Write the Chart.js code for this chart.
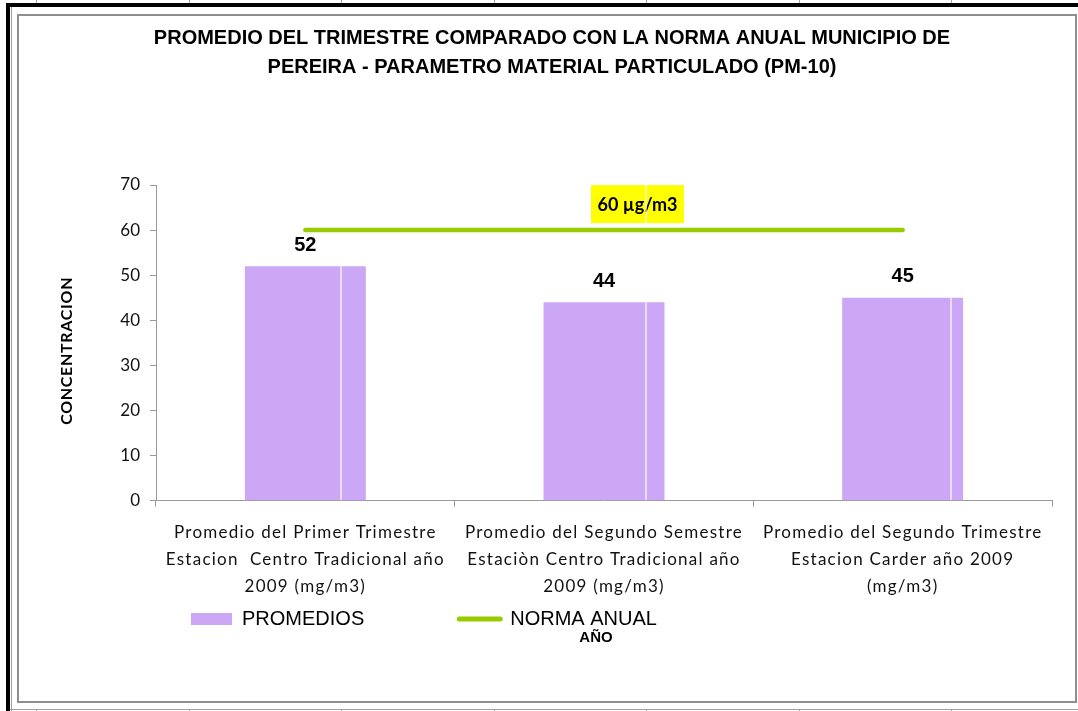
<!DOCTYPE html>
<html><head><meta charset="utf-8">
<script src="https://cdn.jsdelivr.net/npm/chart.js@4.4.1/dist/chart.umd.min.js"></script>
<style>
html,body{margin:0;padding:0;background:#fff;width:1078px;height:711px;overflow:hidden;position:relative}
.blk{position:absolute;background:#000}
.gry{position:absolute;background:#a0a0a0}
#frame{position:absolute;left:17px;top:14px;width:1060px;height:689px;box-sizing:border-box;border:2px solid #8f8f8f;background:#fff}
#c{position:absolute;left:19px;top:16px}
</style></head>
<body>
<div class="gry" style="left:10px;top:709px;width:1068px;height:1px"></div>
<div class="gry" style="left:11px;top:7px;width:1px;height:704px"></div>
<div class="blk" style="left:6px;top:3px;width:1072px;height:4px"></div>
<div class="blk" style="left:6px;top:3px;width:4px;height:708px"></div>
<div id="frame"></div>
<canvas id="c" width="1056" height="685"></canvas>
<script>
// ---- data ----
const categories = [
  ["Promedio del Primer Trimestre", "Estacion  Centro Tradicional año", "2009 (mg/m3)"],
  ["Promedio del Segundo Semestre", "Estaciòn Centro Tradicional año", "2009 (mg/m3)"],
  ["Promedio del Segundo Trimestre", "Estacion Carder año 2009", "(mg/m3)"]
];
const promedios = [52, 44, 45];
const normaAnual = [60, 60, 60];
const normaLabel = "60 µg/m3";
const seriesNames = ["PROMEDIOS", "NORMA ANUAL"];
const titleLines = [
  "PROMEDIO DEL TRIMESTRE COMPARADO CON LA NORMA ANUAL MUNICIPIO DE",
  "PEREIRA - PARAMETRO MATERIAL PARTICULADO (PM-10)"
];
const yTitle = "CONCENTRACION";
const xTitle = "AÑO";

// ---- styling ----
const PURPLE = '#cca7f5';
const GREEN = '#99cc00';
const AXIS = '#9a9a9a';
const CANVAS_X = 19;

// per-axis text tweaks (Calibri-like spacing, title offsets)
const LABEL_SPACING = { x: '1.25px', y: '0px' };
const TITLE_SPACING = { x: '0px', y: '0.7px' };
const TITLE_SHIFT = { x: [-8, 0], y: [0, 8] };
const origDrawLabels = Chart.Scale.prototype.drawLabels;
Chart.Scale.prototype.drawLabels = function (area) {
  const c = this.ctx; c.save();
  c.letterSpacing = LABEL_SPACING[this.id] || '0px';
  origDrawLabels.call(this, area);
  c.restore();
};
const origDrawTitle = Chart.Scale.prototype.drawTitle;
Chart.Scale.prototype.drawTitle = function () {
  const c = this.ctx; c.save();
  c.letterSpacing = TITLE_SPACING[this.id] || '0px';
  const s = TITLE_SHIFT[this.id] || [0, 0];
  c.translate(s[0], s[1]);
  origDrawTitle.call(this);
  c.restore();
};

// spreadsheet column gridlines (page coords) bleeding through filled shapes
const sheetCols = [];
for (let k = 0; k < 7; k++) sheetCols.push(36 + 152.5 * k);
sheetCols.forEach(x => {
  const t = document.createElement('div'); t.className = 'gry';
  t.style.cssText = 'left:' + Math.round(x) + 'px;top:0px;width:1px;height:3px';
  document.body.appendChild(t);
  const b = document.createElement('div'); b.className = 'gry';
  b.style.cssText = 'left:' + Math.round(x) + 'px;top:709px;width:1px;height:2px';
  document.body.appendChild(b);
});

function sheetLinesIn(ctx, left, top, w, h) {
  ctx.save();
  ctx.beginPath(); ctx.rect(left, top, w, h); ctx.clip();
  ctx.strokeStyle = '#ffffff'; ctx.lineWidth = 1.2;
  sheetCols.forEach(px => {
    const x = px - CANVAS_X;
    ctx.beginPath(); ctx.moveTo(x, top); ctx.lineTo(x, top + h); ctx.stroke();
  });
  ctx.restore();
}

const overlay = {
  id: 'overlay',
  afterLayout(chart) {
    const lg = chart.legend; const ca = chart.chartArea;
    const pad = lg.options.labels.padding;
    const rowTop = ca.bottom + 108.3;
    lg.left = ca.left + 35 - pad; lg.right = ca.right;
    lg.top = rowTop - pad; lg.bottom = rowTop + 30;
    lg.width = lg.right - lg.left; lg.height = lg.bottom - lg.top;
  },
  afterDatasetDraw(chart, args) {
    if (args.index !== 0) return;
    const ctx = chart.ctx;
    args.meta.data.forEach(bar => {
      const p = bar.getProps(['x', 'y', 'base', 'width'], true);
      sheetLinesIn(ctx, p.x - p.width / 2, p.y, p.width, p.base - p.y);
    });
    // label box for the norm line
    const xs = chart.scales.x, ys = chart.scales.y;
    const cx = xs.getPixelForValue(1) + 33.5;
    const cy = ys.getPixelForValue(normaAnual[1]) - 26;
    const bw = 93, bh = 38;
    ctx.save();
    ctx.fillStyle = '#ffff00';
    ctx.fillRect(cx - bw / 2, cy - bh / 2, bw, bh);
    ctx.fillStyle = '#000';
    ctx.font = 'bold 18px Lato';
    ctx.textAlign = 'center'; ctx.textBaseline = 'middle';
    ctx.fillText(normaLabel, cx, cy + 1);
    ctx.restore();
    sheetLinesIn(ctx, cx - bw / 2, cy - bh / 2, bw, bh);
  },
  afterDatasetsDraw(chart) {
    const ctx = chart.ctx;
    const meta = chart.getDatasetMeta(0);
    ctx.save();
    ctx.fillStyle = '#000';
    ctx.font = 'bold 20px "Liberation Sans"';
    ctx.textAlign = 'center'; ctx.textBaseline = 'middle';
    meta.data.forEach((bar, i) => {
      ctx.fillText(String(promedios[i]), bar.x, bar.y - 21);
    });
    ctx.restore();
  }
};

new Chart(document.getElementById('c'), {
  type: 'bar',
  data: {
    labels: categories,
    datasets: [
      { label: seriesNames[0], data: promedios, backgroundColor: PURPLE, borderWidth: 0,
        barPercentage: 0.405, categoryPercentage: 1, order: 1 },
      { type: 'line', label: seriesNames[1], data: normaAnual, borderColor: GREEN, backgroundColor: GREEN,
        borderWidth: 4.5, pointRadius: 0, borderCapStyle: 'round', fill: false, order: 0 }
    ]
  },
  options: {
    responsive: false,
    animation: false,
    layout: { padding: { left: 33, right: 23, top: 0, bottom: 53.5 } },
    plugins: {
      tooltip: { enabled: false },
      title: {
        display: true, text: titleLines, color: '#000',
        font: { family: '"Liberation Sans", Arial', size: 20, weight: 'bold', lineHeight: '29px' },
        padding: { top: 7.5, bottom: 103.5 }
      },
      legend: {
        position: 'bottom', align: 'start', maxHeight: 1,
        labels: {
          usePointStyle: true, pointStyleWidth: 41, boxHeight: 12, padding: 95, color: '#000',
          font: { family: '"Liberation Sans", Arial', size: 20 },
          generateLabels: () => [
            { text: seriesNames[0], fillStyle: PURPLE, strokeStyle: PURPLE, lineWidth: 0, pointStyle: 'rect', datasetIndex: 0, hidden: false },
            { text: seriesNames[1], fillStyle: GREEN, strokeStyle: GREEN, lineWidth: 5, lineCap: 'round', pointStyle: 'line', datasetIndex: 1, hidden: false }
          ]
        }
      }
    },
    scales: {
      x: {
        grid: { drawOnChartArea: false, drawTicks: true, tickLength: 6, color: AXIS, offset: true },
        border: { color: AXIS, width: 1 },
        ticks: { color: '#111', padding: 12.5, maxRotation: 0, minRotation: 0, autoSkip: false,
          font: { family: 'Lato', size: 17, lineHeight: '27px' } },
        title: { display: true, text: xTitle, color: '#000',
          font: { family: '"Liberation Sans", Arial', size: 15, weight: 'bold', lineHeight: 1.2 },
          padding: { top: 15.8, bottom: 0 } }
      },
      y: {
        min: 0, max: 70,
        grid: { drawOnChartArea: false, drawTicks: true, tickLength: 6, color: AXIS },
        border: { color: AXIS, width: 1 },
        ticks: { stepSize: 10, color: '#111', padding: 10, font: { family: 'Lato', size: 17 } },
        title: { display: true, text: yTitle, color: '#000',
          font: { family: 'Lato', size: 16, weight: 'bold', lineHeight: 1.2 },
          padding: { top: 5, bottom: 0 } },
        afterFit(scale) { scale.width = 104; }
      }
    }
  },
  plugins: [overlay]
});
</script>
</body></html>
